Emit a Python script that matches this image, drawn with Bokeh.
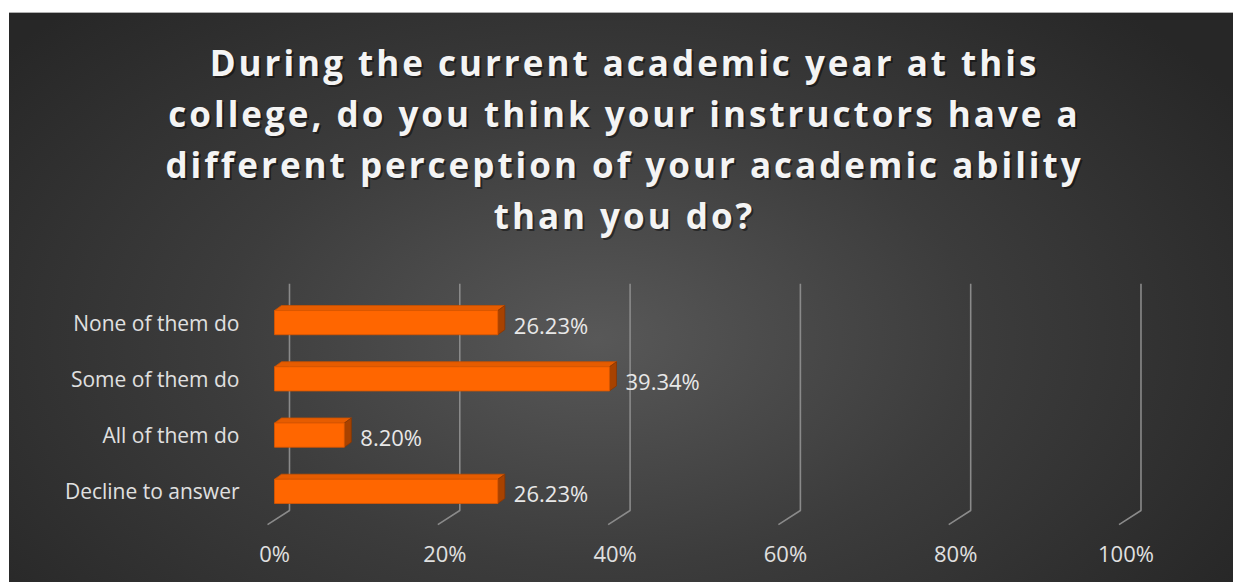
from bokeh.plotting import figure
from bokeh.layouts import column
from bokeh.models import Range1d, FixedTicker, ColumnDataSource, InlineStyleSheet
from bokeh.core.properties import value
from bokeh.embed import file_html
from bokeh.resources import INLINE

# ---- data ----
title_lines = ["During the current academic year at this",
               "college, do you think your instructors have a",
               "different perception of your academic ability",
               "than you do?"]
categories = ["None of them do", "Some of them do", "All of them do", "Decline to answer"]
percentages = [26.23, 39.34, 8.20, 26.23]
x_ticks = [0, 20, 40, 60, 80, 100]
x_tick_labels = ["0%", "20%", "40%", "60%", "80%", "100%"]

# ---- style constants ----
FONT = "Open Sans"
ORANGE = "#ff6600"
ORANGE_TOP = "#e65c00"
ORANGE_SIDE = "#a84200"
GRID = "#8a8a8a"
BAR_H = 0.43          # bar thickness (y units)
DX, DY = 0.82, 0.09   # 3D depth of bars
GDX, GX_BACK = -0.82, 1.76  # floor depth for gridlines
W, TITLE_H, CHART_H = 1224, 263, 307
TITLE_CX, TITLE_Y0, TITLE_STEP = 615, 49, 51
LETTER_SP = 3

# ---- title panel ----
t = figure(width=W, height=TITLE_H, output_backend="svg", toolbar_location=None,
           x_range=Range1d(0, W), y_range=Range1d(TITLE_H, 0), min_border=0)
t.frame_align = False
t.axis.visible = False
t.grid.visible = False
t.border_fill_color = None
t.background_fill_color = None
t.outline_line_color = None
t.stylesheets = [InlineStyleSheet(css=f":host {{ letter-spacing: {LETTER_SP}px; }}")]
tsrc = ColumnDataSource(dict(x=[TITLE_CX] * len(title_lines),
                             y=[TITLE_Y0 + i * TITLE_STEP for i in range(len(title_lines))],
                             dx=[-LETTER_SP * len(s) / 2 for s in title_lines],
                             dxs=[2 - LETTER_SP * len(s) / 2 for s in title_lines],
                             s=title_lines))
t.text(x="x", y="y", text="s", source=tsrc, x_offset="dxs", y_offset=2,
       text_align="center", text_baseline="middle", text_font=value(FONT),
       text_font_style="bold", text_font_size="35px", text_color="#000000", text_alpha=0.45)
t.text(x="x", y="y", text="s", source=tsrc, x_offset="dx",
       text_align="center", text_baseline="middle", text_font=value(FONT),
       text_font_style="bold", text_font_size="35px", text_color="#f4f4f4")

# ---- chart panel ----
n = len(categories)
ypos = [n - 1 - i for i in range(n)]

p = figure(width=W, height=CHART_H, output_backend="svg", toolbar_location=None,
           x_range=Range1d(-2.82, 106.4), y_range=Range1d(-0.82, 3.82),
           min_border_left=241, min_border_right=53, min_border_top=0, min_border_bottom=46)
p.frame_align = False
p.border_fill_color = None
p.background_fill_color = None
p.outline_line_color = None
p.xgrid.visible = False
p.ygrid.visible = False

# gridlines on the 3D walls/floor
gx, gy = [], []
for tk in x_ticks:
    gx.append([tk + GX_BACK, tk + GX_BACK, tk + GDX])
    gy.append([3.69, -0.34, -0.59])
p.multi_line(gx, gy, line_color=GRID, line_width=1.6)

# bars: front, top, side faces
src = ColumnDataSource(dict(y=ypos, v=percentages,
                            lab=[f"{v:.2f}%" for v in percentages]))
top_xs, top_ys, side_xs, side_ys = [], [], [], []
for y, v in zip(ypos, percentages):
    yt, yb = y + BAR_H / 2, y - BAR_H / 2
    top_xs.append([0, v, v + DX, DX])
    top_ys.append([yt, yt, yt + DY, yt + DY])
    side_xs.append([v, v + DX, v + DX, v])
    side_ys.append([yb, yb + DY, yt + DY, yt])
p.patches(top_xs, top_ys, fill_color=ORANGE_TOP, line_color="#c85000", line_width=0.8)
p.patches(side_xs, side_ys, fill_color=ORANGE_SIDE, line_color="#8a3600", line_width=0.8)
p.hbar(y="y", left=0, right="v", height=BAR_H, source=src,
       fill_color=ORANGE, line_color="#d95700", line_width=0.8)

p.text(x="v", y="y", text="lab", source=src, x_offset=16, y_offset=2,
       text_font=value(FONT), text_font_size="22px", text_color="#e8e8e8",
       text_baseline="middle", text_align="left")

# axes
p.xaxis.ticker = FixedTicker(ticks=x_ticks)
p.xaxis.major_label_overrides = {tk: l for tk, l in zip(x_ticks, x_tick_labels)}
p.yaxis.ticker = FixedTicker(ticks=ypos)
p.yaxis.major_label_overrides = {y: c for y, c in zip(ypos, categories)}
for ax in (p.xaxis[0], p.yaxis[0]):
    ax.axis_line_color = None
    ax.major_tick_line_color = None
    ax.minor_tick_line_color = None
    ax.major_label_text_font = FONT
    ax.major_label_text_color = "#e0e0e0"
p.xaxis.major_label_text_font_size = "22px"
p.yaxis.major_label_text_font_size = "21px"
p.xaxis.major_label_standoff = -6
p.yaxis.major_label_standoff = 5

layout = column(t, p, spacing=0)
layout.margin = (12, 0, 0, 9)
layout.stylesheets = [InlineStyleSheet(css=(
    ":host { background: radial-gradient(ellipse 62% 80% at 48% 57%, #585858 0%, #3c3c3c 50%, #272727 100%);"
    " border-top: 1px solid #b0b0b0; }"))]

open("out.html", "w").write(file_html(layout, INLINE))
